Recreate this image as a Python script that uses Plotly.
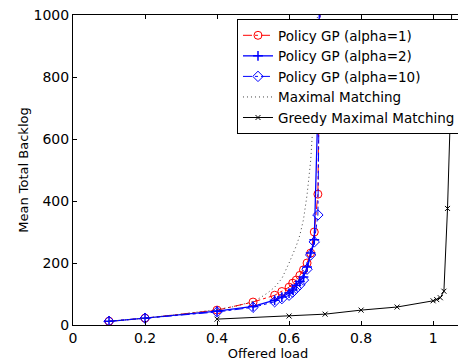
import plotly.graph_objects as go

# Offered load values for the Policy GP curves
x_gp = [0.1, 0.2, 0.4, 0.5, 0.56, 0.58, 0.6, 0.61, 0.62, 0.63, 0.64, 0.65, 0.66, 0.67, 0.68, 0.69]
y_alpha1 = [12, 22, 48, 74, 96, 108, 122, 135, 145, 160, 178, 200, 232, 300, 422, 1400]
y_alpha2 = [12, 22, 45, 60, 80, 90, 103, 113, 128, 140, 155, 187, 232, 275, 700, 1500]
y_alpha10 = [12, 22, 42, 57, 75, 85, 96, 106, 118, 130, 145, 180, 226, 268, 355, 1400]

x_mm = [0.1, 0.2, 0.3, 0.4, 0.45, 0.5, 0.52, 0.54, 0.56, 0.58, 0.6, 0.62, 0.63, 0.64, 0.65, 0.66, 0.667, 0.675, 0.68]
y_mm = [12, 22, 35, 50, 60, 76, 88, 103, 122, 150, 200, 255, 290, 340, 420, 530, 660, 850, 1050]

x_greedy = [0.4, 0.6, 0.7, 0.8, 0.9, 1.0, 1.01, 1.02, 1.03, 1.04, 1.047, 1.055]
y_greedy = [19, 29, 35, 48, 58, 78, 82, 88, 109, 376, 646, 1300]

x_ticks = [0, 0.2, 0.4, 0.6, 0.8, 1]
y_ticks = [0, 200, 400, 600, 800, 1000]

FONT = "DejaVu Sans, sans-serif"

fig = go.Figure()
fig.add_trace(go.Scatter(x=x_gp, y=y_alpha1, name="Policy GP (alpha=1)", mode="lines+markers",
                         line=dict(color="#ff0000", width=1, dash="dashdot"),
                         marker=dict(symbol="circle-open", size=8, color="#ff0000", line=dict(width=1))))
fig.add_trace(go.Scatter(x=x_gp, y=y_alpha2, name="Policy GP (alpha=2)", mode="lines+markers",
                         line=dict(color="#0000ff", width=1.3),
                         marker=dict(symbol="cross-thin-open", size=7, color="#0000ff", line=dict(width=1.5))))
fig.add_trace(go.Scatter(x=x_gp, y=y_alpha10, name="Policy GP (alpha=10)", mode="lines+markers",
                         line=dict(color="#0000ff", width=1, dash="dashdot"),
                         marker=dict(symbol="diamond-open", size=8, color="#0000ff", line=dict(width=1))))
fig.add_trace(go.Scatter(x=x_mm, y=y_mm, name="Maximal Matching", mode="lines",
                         line=dict(color="#444444", width=1, dash="1px,3px")))
fig.add_trace(go.Scatter(x=x_greedy, y=y_greedy, name="Greedy Maximal Matching", mode="lines+markers",
                         line=dict(color="#000000", width=1),
                         marker=dict(symbol="x-thin-open", size=5, color="#000000", line=dict(width=1))))

axis_common = dict(showline=True, linecolor="black", linewidth=1, mirror="ticks",
                   ticks="inside", ticklen=4, tickcolor="black", showgrid=False, zeroline=False,
                   automargin=False, ticklabeloverflow="allow",
                   tickfont=dict(family=FONT, size=14, color="black"))

# The page body has an 8px default margin, so the figure is sized to fit the window.
fig.update_layout(
    width=458, height=354,
    margin=dict(l=65, r=3, t=7, b=37),
    paper_bgcolor="white", plot_bgcolor="white",
    font=dict(family=FONT, size=13, color="black"),
    xaxis=dict(range=[0, 1.083], tickvals=x_ticks, ticktext=["0", "0.2", "0.4", "0.6", "0.8", "1"],
               title=dict(text="Offered load", font=dict(size=13), standoff=0), **axis_common),
    yaxis=dict(range=[0, 1000], tickvals=y_ticks, ticktext=[str(v) for v in y_ticks],
               title=dict(text="Mean Total Backlog", font=dict(size=13), standoff=2), **axis_common),
    legend=dict(x=0.4205, y=0.987, xanchor="left", yanchor="top", bgcolor="white",
                bordercolor="black", borderwidth=1, font=dict(family=FONT, size=13.5),
                tracegroupgap=0, itemwidth=30),
    showlegend=True,
)

fig.write_html("out.html")
